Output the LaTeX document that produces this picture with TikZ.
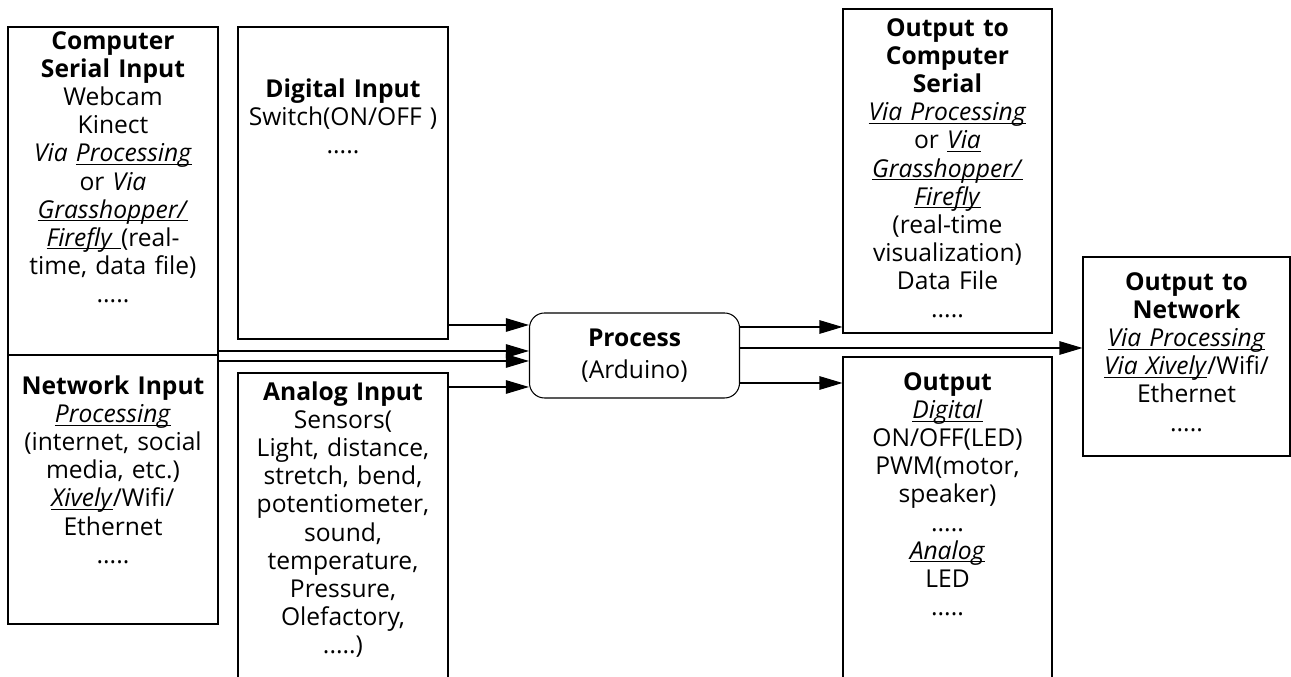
\documentclass[tikz,border=0pt]{standalone}
\usepackage{fontspec}
\setmainfont{Open Sans}
\usetikzlibrary{arrows.meta,positioning}
\newcommand{\ulit}[1]{\underline{\smash{\textit{#1}}}}

\begin{document}
\begin{tikzpicture}[auto,
    box/.style={rectangle,draw,line width=0.6pt,minimum width=4.2cm,inner sep=0pt},
    txt/.style={text width=4.2cm,align=center,inner sep=0pt,font=\fontsize{14pt}{16pt}\selectfont},
    >={Triangle[length=0.46cm,width=0.27cm]},
    arr/.style={->,line width=0.6pt}]
\useasboundingbox (0,0) rectangle (25.82,13.54);
% boxes
\node (csi)    at (2.26,9.72)  [box,minimum height=6.56cm] {};
\node (netin)  at (2.26,3.75)  [box,minimum height=5.38cm] {};
\node (digin)  at (6.86,9.88)  [box,minimum height=6.24cm] {};
\node (anain)  at (6.86,2.84)  [box,minimum height=6.48cm] {};
\node (process) at (12.69,6.43) [box,txt,rounded corners=0.3cm,minimum width=4.18cm,minimum height=1.7cm]
    {\textbf{Process}\\[2pt](Arduino)};
\node (outcs)  at (18.95,10.12) [box,minimum width=4.18cm,minimum height=6.48cm] {};
\node (outp)   at (18.95,3.0)   [box,minimum width=4.18cm,minimum height=6.8cm] {};
\node (outnet) at (23.73,6.41)  [box,minimum width=4.14cm,minimum height=3.98cm] {};
% box texts
\node (csitext) [txt,below=0.06cm of csi.north] {\strut\textbf{Computer}\\
    \textbf{Serial Input}\\ Webcam\\ Kinect\\ \textit{Via} \ulit{Processing}\\
    or \textit{Via}\\ \ulit{Grasshopper/}\\ \ulit{Firefly }(real-\\
    time, data file)\\ .....};
\node (netintext) [txt,below=0.4cm of netin.north] {\strut\textbf{Network Input}\\
    \ulit{Processing}\\ (internet, social\\ media, etc.)\\
    \ulit{Xively}/Wifi/\\ Ethernet\\ .....};
\node (dintext) [txt,below=1.02cm of digin.north] {\strut\textbf{Digital Input}\\
    Switch(ON/OFF )\\ .....};
\node (aintext) [txt,below=0.16cm of anain.north] {\strut\textbf{Analog Input}\\
    Sensors(\\ Light, distance,\\ stretch, bend,\\ potentiometer,\\ sound,\\
    temperature,\\ Pressure,\\ Olefactory,\\ .....)};
\node (outcstext) [txt,below=0.16cm of outcs.north] {\strut\textbf{Output to}\\
    \textbf{Computer}\\ \textbf{Serial}\\ \ulit{Via Processing}\\
    or \ulit{Via}\\ \ulit{Grasshopper/}\\ \ulit{Firefly}\\
    (real-time\\ visualization)\\ Data File\\ .....};
\node (outptext) [txt,below=0.28cm of outp.north] {\strut\textbf{Output}\\
    \ulit{Digital}\\ ON/OFF(LED)\\ PWM(motor,\\ speaker)\\ .....\\
    \ulit{Analog}\\ LED\\ .....};
\node (outnettext) [txt,below=0.28cm of outnet.north] {\strut\textbf{Output to}\\
    \textbf{Network}\\ \ulit{Via Processing}\\
    \ulit{Via Xively}/Wifi/\\ Ethernet\\ .....};
% arrow levels
\coordinate (ydin) at (0,7.04);
\coordinate (ycsi) at (0,6.52);
\coordinate (ynet) at (0,6.32);
\coordinate (yain) at (0,5.8);
\coordinate (yocs) at (0,7.0);
\coordinate (yonet) at (0,6.58);
\coordinate (yout) at (0,5.88);
\draw [arr] (digin.east |- ydin) -- (process.west |- ydin);
\draw [arr] (csi.east |- ycsi)   -- (process.west |- ycsi);
\draw [arr] (netin.east |- ynet) -- (process.west |- ynet);
\draw [arr] (anain.east |- yain) -- (process.west |- yain);
\draw [arr] (process.east |- yocs)  -- (outcs.west |- yocs);
\draw [arr] (process.east |- yonet) -- (outnet.west |- yonet);
\draw [arr] (process.east |- yout)  -- (outp.west |- yout);
\end{tikzpicture}
\end{document}
